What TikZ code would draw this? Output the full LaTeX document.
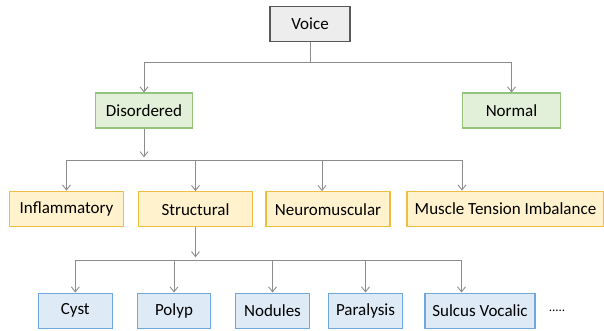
\documentclass[tikz,border=0pt]{standalone}
\usepackage{fontspec}
\setmainfont{Carlito}
\usetikzlibrary{arrows.meta,calc}

\definecolor{voicefill}{HTML}{EDEDED}
\definecolor{voiceline}{HTML}{595959}
\definecolor{greenfill}{HTML}{E2F0D9}
\definecolor{greenline}{HTML}{93C47D}
\definecolor{yellowfill}{HTML}{FFF2CC}
\definecolor{yellowline}{HTML}{EDBE45}
\definecolor{bluefill}{HTML}{DEEBF7}
\definecolor{blueline}{HTML}{6FA8DC}
\definecolor{linkgray}{HTML}{8C8C8C}

\begin{document}
\begin{tikzpicture}[x=1pt,y=-1pt,
    box/.style={draw, line width=1.2pt, minimum height=35pt, inner sep=0pt, font=\fontsize{17}{20}\selectfont},
    graybox/.style={box, fill=voicefill, draw=voiceline},
    greenbox/.style={box, fill=greenfill, draw=greenline},
    yellowbox/.style={box, fill=yellowfill, draw=yellowline},
    bluebox/.style={box, fill=bluefill, draw=blueline},
    link/.style={draw=linkgray, line width=0.9pt},
    arr/.style={link, -{Straight Barb[length=5pt,width=8pt]}}]

    \useasboundingbox (0,0) rectangle (604,331);

    % top
    \node[graybox, minimum width=80pt] (voice) at (310,24) {Voice};
    \node[greenbox, minimum width=97pt] (dis) at (144,110.6) {Disordered};
    \node[greenbox, minimum width=98pt] (nor) at (511.5,110.6) {Normal};

    % second level
    \node[yellowbox, minimum width=114pt] (inf) at (66.5,208.7) {Inflammatory};
    \node[yellowbox, minimum width=114pt] (str) at (195.5,209.2) {Structural};
    \node[yellowbox, minimum width=124pt] (neu) at (328,209.2) {Neuromuscular};
    \node[yellowbox, minimum width=197pt] (mti) at (505.5,208.7) {Muscle Tension Imbalance};

    % third level
    \node[bluebox, minimum width=74pt] (cyst) at (75.3,310.6) {Cyst};
    \node[bluebox, minimum width=73pt] (polyp) at (174,310.6) {Polyp};
    \node[bluebox, minimum width=74pt] (nod) at (272.5,310.6) {Nodules};
    \node[bluebox, minimum width=74pt] (par) at (365.5,310.6) {Paralysis};
    \node[bluebox, minimum width=110pt] (sul) at (480,310.6) {Sulcus Vocalic};
    \node[font=\fontsize{13}{15}\selectfont, inner sep=0pt] (more) at (557,311) {.....};

    \coordinate (bus1) at (310,62.3);
    \coordinate (bus2) at (144,160.7);
    \coordinate (bus3) at (195.5,260.7);

    \draw[link] (voice.south) -- (bus1);
    \draw[arr] (bus1) -| (dis.north);
    \draw[arr] (bus1) -| (nor.north);

    \draw[arr, shorten >=3.4pt] (dis.south) -- (bus2);
    \draw[arr] (bus2) -| (inf.north);
    \draw[arr] (bus2) -| (str.north);
    \draw[arr] (bus2) -| ([xshift=-6pt]neu.north);
    \draw[arr] (bus2) -| ([xshift=-43.5pt]mti.north);

    \draw[arr, shorten >=3.4pt] (str.south) -- (bus3);
    \draw[arr] (bus3) -| (cyst.north);
    \draw[arr] (bus3) -| (polyp.north);
    \draw[arr] (bus3) -| (nod.north);
    \draw[arr] (bus3) -| (par.north);
    \draw[arr] (bus3) -| ([xshift=-18.5pt]sul.north);

\end{tikzpicture}
\end{document}
